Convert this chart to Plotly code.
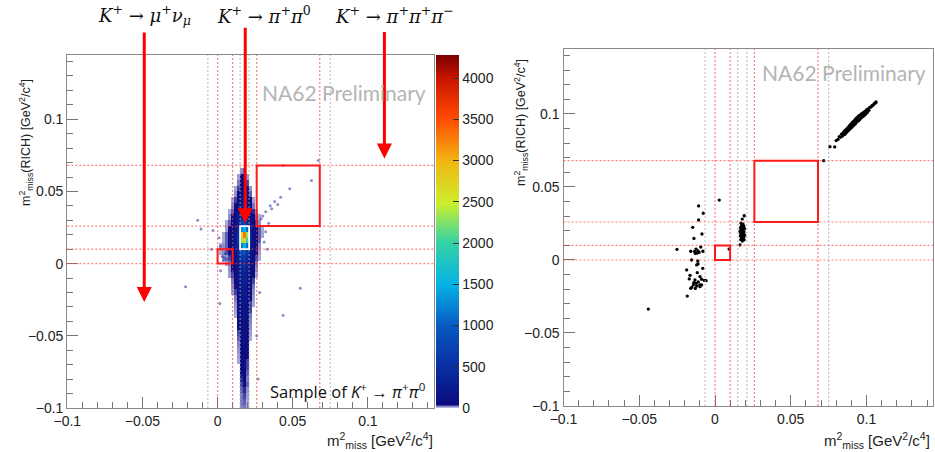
import plotly.graph_objects as go

W, H = 935, 452

# ---------------- data: left panel (2D histogram, K+ -> pi+ pi0 sample) -------------
hist_x = [0.000, 0.002, 0.004, 0.006, 0.008, 0.010, 0.012, 0.014, 0.016, 0.018,
          0.020, 0.022, 0.024, 0.026, 0.028, 0.030, 0.032, 0.034]
hist_y = [0.068, 0.064, 0.060, 0.056, 0.052, 0.048, 0.044, 0.040, 0.036, 0.032, 0.028,
          0.024, 0.020, 0.016, 0.012, 0.008, 0.004, 0.000, -0.004, -0.008, -0.012,
          -0.016, -0.020, -0.024, -0.028, -0.032, -0.036, -0.040, -0.044, -0.048, -0.052,
          -0.056, -0.060, -0.064, -0.068, -0.072, -0.076, -0.080, -0.084, -0.088, -0.092,
          -0.096, -0.100]
hist_counts = [
    [0, 0, 0, 0, 0, 0, 0, 0, 0, 0, 0, 0, 0, 0, 0, 0, 0, 0],
    [0, 0, 0, 0, 0, 0, 0, 0, 15, 25, 0, 0, 0, 0, 0, 0, 0, 0],
    [0, 0, 0, 0, 0, 0, 0, 12, 40, 50, 12, 0, 0, 0, 0, 0, 0, 0],
    [0, 0, 0, 0, 0, 0, 0, 20, 60, 80, 30, 0, 0, 0, 0, 0, 0, 0],
    [0, 0, 0, 0, 0, 0, 10, 30, 90, 110, 50, 15, 0, 0, 0, 0, 0, 0],
    [0, 0, 0, 0, 0, 0, 15, 50, 130, 160, 80, 25, 0, 0, 0, 0, 0, 0],
    [0, 0, 0, 0, 0, 10, 30, 80, 180, 220, 120, 40, 12, 0, 0, 0, 0, 0],
    [0, 0, 0, 0, 0, 15, 40, 110, 240, 290, 160, 60, 20, 0, 0, 0, 0, 0],
    [0, 0, 0, 0, 10, 25, 60, 150, 320, 380, 220, 90, 35, 12, 0, 0, 0, 0],
    [0, 0, 0, 0, 15, 40, 90, 210, 440, 520, 300, 130, 50, 20, 10, 0, 0, 0],
    [0, 0, 0, 10, 25, 60, 130, 300, 650, 760, 430, 190, 80, 35, 15, 0, 0, 0],
    [0, 0, 0, 12, 40, 80, 180, 420, 1300, 1500, 1100, 260, 110, 50, 25, 10, 0, 0],
    [0, 0, 10, 25, 50, 100, 220, 520, 2700, 3300, 2300, 320, 130, 60, 25, 10, 0, 0],
    [0, 0, 10, 25, 60, 110, 240, 560, 2300, 2800, 2000, 330, 140, 60, 25, 0, 0, 0],
    [0, 10, 15, 25, 50, 100, 220, 480, 1200, 1500, 1100, 280, 120, 50, 15, 0, 0, 0],
    [0, 10, 15, 25, 40, 90, 190, 400, 800, 900, 600, 230, 100, 40, 12, 0, 0, 0],
    [0, 0, 12, 15, 30, 70, 150, 320, 600, 650, 450, 180, 80, 30, 10, 0, 0, 0],
    [0, 0, 0, 12, 20, 50, 110, 250, 480, 520, 360, 140, 60, 20, 0, 0, 0, 0],
    [0, 0, 0, 0, 15, 40, 90, 200, 400, 430, 290, 110, 50, 15, 0, 0, 0, 0],
    [0, 0, 0, 0, 12, 30, 70, 170, 340, 360, 240, 90, 40, 10, 0, 0, 0, 0],
    [0, 0, 0, 0, 0, 20, 50, 140, 290, 310, 200, 70, 30, 0, 0, 0, 0, 0],
    [0, 0, 0, 0, 0, 15, 40, 120, 250, 270, 170, 60, 20, 0, 0, 0, 0, 0],
    [0, 0, 0, 0, 0, 12, 30, 100, 220, 240, 150, 50, 15, 0, 0, 0, 0, 0],
    [0, 0, 0, 0, 0, 0, 20, 80, 190, 210, 130, 40, 12, 0, 0, 0, 0, 0],
    [0, 0, 0, 0, 0, 0, 15, 70, 170, 190, 110, 30, 10, 0, 0, 0, 0, 0],
    [0, 0, 0, 0, 0, 0, 12, 60, 150, 170, 100, 30, 0, 0, 0, 0, 0, 0],
    [0, 0, 0, 0, 0, 0, 10, 50, 130, 150, 90, 20, 0, 0, 0, 0, 0, 0],
    [0, 0, 0, 0, 0, 0, 0, 40, 120, 130, 80, 18, 0, 0, 0, 0, 0, 0],
    [0, 0, 0, 0, 0, 0, 0, 40, 110, 120, 70, 15, 0, 0, 0, 0, 0, 0],
    [0, 0, 0, 0, 0, 0, 0, 30, 100, 110, 60, 12, 0, 0, 0, 0, 0, 0],
    [0, 0, 0, 0, 0, 0, 0, 25, 90, 100, 50, 10, 0, 0, 0, 0, 0, 0],
    [0, 0, 0, 0, 0, 0, 0, 18, 80, 90, 50, 0, 0, 0, 0, 0, 0, 0],
    [0, 0, 0, 0, 0, 0, 0, 15, 70, 80, 40, 0, 0, 0, 0, 0, 0, 0],
    [0, 0, 0, 0, 0, 0, 0, 12, 60, 70, 40, 0, 0, 0, 0, 0, 0, 0],
    [0, 0, 0, 0, 0, 0, 0, 10, 60, 60, 30, 0, 0, 0, 0, 0, 0, 0],
    [0, 0, 0, 0, 0, 0, 0, 0, 50, 60, 30, 0, 0, 0, 0, 0, 0, 0],
    [0, 0, 0, 0, 0, 0, 0, 0, 40, 50, 25, 0, 0, 0, 0, 0, 0, 0],
    [0, 0, 0, 0, 0, 0, 0, 0, 35, 45, 20, 0, 0, 0, 0, 0, 0, 0],
    [0, 0, 0, 0, 0, 0, 0, 0, 30, 40, 25, 0, 0, 0, 0, 0, 0, 0],
    [0, 0, 0, 0, 0, 0, 0, 0, 25, 35, 15, 0, 0, 0, 0, 0, 0, 0],
    [0, 0, 0, 0, 0, 0, 0, 0, 20, 30, 12, 0, 0, 0, 0, 0, 0, 0],
    [0, 0, 0, 0, 0, 0, 0, 0, 20, 25, 10, 0, 0, 0, 0, 0, 0, 0],
    [0, 0, 0, 0, 0, 0, 0, 0, 18, 20, 10, 0, 0, 0, 0, 0, 0, 0],
]
# sparse single entries around the core
sparse_x = [-0.0133, -0.0213, 0.0436, 0.0670, 0.0625, 0.0480, 0.0420, 0.0380, 0.0350, 0.0320,
            0.0300, 0.0360, 0.0400, 0.0290, 0.0436, 0.0015, -0.0030, -0.0110, 0.0030, 0.0060,
            0.0050, 0.0080, 0.0040, 0.0070, 0.0020, 0.0550, 0.0280, 0.0310, 0.0330, 0.0320,
            0.0340, 0.0020, -0.0040, 0.0260, 0.0270, 0.0045, 0.0010]
sparse_y = [0.0300, -0.0160, 0.0680, 0.0714, 0.0576, 0.0519, 0.0460, 0.0430, 0.0400, 0.0360,
            0.0330, 0.0380, 0.0410, 0.0310, -0.0357, -0.0277, 0.0230, 0.0240, 0.0050, 0.0030,
            0.0070, 0.0060, 0.0020, 0.0090, 0.0120, -0.0170, -0.0200, 0.0150, 0.0100, 0.0220,
            0.0280, -0.0050, 0.0100, -0.0500, -0.0800, 0.0040, 0.0180]

# ---------------- data: right panel (selected events) ---------------------------------
ev_x = [-0.0108, -0.0077, -0.0108, -0.0147, -0.0139, -0.0086, 0.0028, -0.0251, -0.0125, -0.0112,
        -0.0135, -0.0105, -0.0118, -0.0094, -0.0130, -0.0154, -0.0114, -0.0112, -0.0121, -0.0187,
        -0.0081, -0.0117, -0.0165, -0.0099, -0.0088, -0.0132, -0.0125, -0.0143, -0.0154, -0.0160,
        -0.0121, -0.0099, -0.0088, -0.0059, -0.0110, -0.0140, -0.0183, -0.0440, 0.0093, -0.0070,
        -0.0130, -0.0100, -0.0170, -0.0080, -0.0160,
        0.0193, 0.0180, 0.0172, 0.0185, 0.0175, 0.0190, 0.0168, 0.0182, 0.0195, 0.0172,
        0.0187, 0.0178, 0.0165, 0.0192, 0.0183, 0.0170, 0.0188, 0.0175, 0.0195, 0.0168,
        0.0182, 0.0190, 0.0175, 0.0185, 0.0170, 0.0192, 0.0180, 0.0165,
        0.0718, 0.0759, 0.0790, 0.0800, 0.0812, 0.0820, 0.0828, 0.0835, 0.0840, 0.0846,
        0.0850, 0.0855, 0.0858, 0.0862, 0.0866, 0.0870, 0.0873, 0.0877, 0.0880, 0.0884,
        0.0887, 0.0890, 0.0893, 0.0896, 0.0899, 0.0902, 0.0905, 0.0908, 0.0911, 0.0914,
        0.0917, 0.0920, 0.0923, 0.0926, 0.0929, 0.0932, 0.0935, 0.0938, 0.0941, 0.0944,
        0.0948, 0.0951, 0.0955, 0.0958, 0.0962, 0.0966, 0.0970, 0.0974, 0.0978, 0.0982,
        0.0986, 0.0990, 0.0995, 0.1000, 0.1005, 0.1010, 0.1016, 0.1022, 0.1030, 0.1038,
        0.1045, 0.1052, 0.1060, 0.1063]
ev_y = [0.0370, 0.0320, 0.0274, 0.0224, 0.0148, 0.0178, 0.0410, 0.0073, 0.0075, 0.0062,
        0.0058, 0.0052, 0.0048, 0.0089, 0.0045, 0.0000, -0.0007, -0.0027, -0.0034, -0.0068,
        -0.0057, -0.0087, -0.0105, -0.0114, -0.0132, -0.0137, -0.0160, -0.0171, -0.0187, -0.0194,
        -0.0178, -0.0183, -0.0171, -0.0142, -0.0150, -0.0155, -0.0247, -0.0336, 0.0075, -0.0140,
        -0.0195, -0.0170, -0.0130, 0.0060, 0.0060,
        0.0303, 0.0280, 0.0252, 0.0245, 0.0235, 0.0230, 0.0222, 0.0218, 0.0215, 0.0208,
        0.0205, 0.0198, 0.0195, 0.0192, 0.0188, 0.0182, 0.0178, 0.0172, 0.0170, 0.0165,
        0.0160, 0.0155, 0.0150, 0.0145, 0.0140, 0.0138, 0.0130, 0.0103,
        0.0680, 0.0776, 0.0774, 0.0818, 0.0826, 0.0845, 0.0840, 0.0862, 0.0848, 0.0872,
        0.0858, 0.0884, 0.0862, 0.0890, 0.0872, 0.0898, 0.0880, 0.0905, 0.0887, 0.0915,
        0.0893, 0.0922, 0.0900, 0.0928, 0.0906, 0.0935, 0.0912, 0.0942, 0.0918, 0.0950,
        0.0925, 0.0955, 0.0930, 0.0962, 0.0937, 0.0970, 0.0962, 0.0975, 0.0950, 0.0980,
        0.0955, 0.0988, 0.0962, 0.0992, 0.0970, 0.1000, 0.0978, 0.1005, 0.0985, 0.1010,
        0.0992, 0.1018, 0.1000, 0.1028, 0.1010, 0.1035, 0.1025, 0.1045, 0.1048, 0.1058,
        0.1062, 0.1072, 0.1076, 0.1082]

# region boundaries
red_lines = [0.0, 0.010, 0.026, 0.068]
gray_lines = [-0.0065, 0.015, 0.021, 0.075]
region1 = (0.0, 0.010)
region2 = (0.026, 0.068)
control_box = (0.015, 0.021, 0.010, 0.026)

# arrows (head position in data units, tail offset in pixels)
arrow_x = [-0.0488, 0.0184, 0.111]
arrow_head_y = [-0.0265, 0.0279, 0.0728]
arrow_tail_offset = [-271, -197, -128]
decay_labels = ["<i>K</i><sup>+</sup> → <i>μ</i><sup>+</sup><i>ν</i><sub><i>μ</i></sub>",
                "<i>K</i><sup>+</sup> → <i>π</i><sup>+</sup><i>π</i><sup>0</sup>",
                "<i>K</i><sup>+</sup> → <i>π</i><sup>+</sup><i>π</i><sup>+</sup><i>π</i><sup>−</sup>"]
decay_label_px = [144, 264, 394]

z = [[(v if v > 0 else None) for v in row] for row in hist_counts]

palette = [[0.0, "rgba(40,40,170,0.25)"], [0.0025, "rgba(30,30,160,0.40)"],
           [0.0095, "rgba(11,11,126,1)"], [0.06, "#0a1c8f"], [0.12, "#0a2fa3"],
           [0.23, "#0858c2"], [0.35, "#05b2e6"], [0.47, "#35d3a3"], [0.58, "#cdee2c"],
           [0.70, "#f2b512"], [0.82, "#ff4a00"], [0.93, "#cc1600"], [1.0, "#7a0000"]]


def px2fx(p):
    return p / W


def px2fy(p):
    return 1 - p / H


fig = go.Figure()

fig.add_trace(go.Scatter(x=sparse_x, y=sparse_y, mode="markers", xaxis="x", yaxis="y",
                         marker=dict(size=3, color="rgba(30,30,150,0.5)"), hoverinfo="skip",
                         showlegend=False))
fig.add_trace(go.Heatmap(x=hist_x, y=hist_y, z=z, zmin=0, zmax=4280, colorscale=palette,
                         xaxis="x", yaxis="y", hoverinfo="skip",
                         colorbar=dict(x=px2fx(436), xanchor="left", y=px2fy(408), yanchor="bottom",
                                       len=353 / H, lenmode="fraction", thickness=23,
                                       thicknessmode="pixels", xpad=0, ypad=0, outlinewidth=0,
                                       ticks="inside", ticklen=6, tickcolor="#333", dtick=500,
                                       tick0=0, tickfont=dict(size=14, family="Liberation Sans",
                                                              color="#222"))))
fig.add_trace(go.Scatter(x=ev_x, y=ev_y, mode="markers", xaxis="x2", yaxis="y2",
                         marker=dict(size=3.3, color="black"), hoverinfo="skip", showlegend=False))

axis_common = dict(showline=True, mirror=True, linecolor="#8a8a8a", linewidth=1.3,
                   ticks="inside", ticklen=11, tickcolor="#777", tickwidth=1,
                   dtick=0.05, tick0=0, showgrid=False, zeroline=False, automargin=False,
                   tickfont=dict(size=14, family="Liberation Sans", color="#222"),
                   minor=dict(ticks="inside", ticklen=6, dtick=0.01, tickcolor="#777", showgrid=False))

fig.update_layout(
    template="none",
    width=W, height=H, margin=dict(l=0, r=0, t=0, b=0, pad=0), autosize=False,
    paper_bgcolor="white", plot_bgcolor="white", showlegend=False,
    xaxis=dict(domain=[px2fx(67.3), px2fx(434)], range=[-0.1, 0.1440], anchor="y", **axis_common),
    yaxis=dict(domain=[px2fy(408), px2fy(55)], range=[-0.1, 0.1445], anchor="x", **axis_common),
    xaxis2=dict(domain=[px2fx(563.5), px2fx(933)], range=[-0.1, 0.1439], anchor="y2", **axis_common),
    yaxis2=dict(domain=[px2fy(406), px2fy(49)], range=[-0.1, 0.1445], anchor="x2", **axis_common),
)

red_line = dict(color="rgba(255,60,60,0.65)", width=1.2, dash="2px,2px")
gray_line = dict(color="rgba(170,170,170,0.7)", width=1.2, dash="2px,2px")
shapes = []
for xr, yr in (("x", "y"), ("x2", "y2")):
    for v in gray_lines:
        shapes.append(dict(type="line", xref=xr, yref=yr + " domain", x0=v, x1=v, y0=0, y1=1,
                           line=gray_line))
    for v in red_lines:
        shapes.append(dict(type="line", xref=xr, yref=yr + " domain", x0=v, x1=v, y0=0, y1=1,
                           line=red_line))
        shapes.append(dict(type="line", xref=xr + " domain", yref=yr, x0=0, x1=1, y0=v, y1=v,
                           line=red_line))
    for lo, hi in (region1, region2):
        shapes.append(dict(type="rect", xref=xr, yref=yr, x0=lo, x1=hi, y0=lo, y1=hi,
                           line=dict(color="#ff1a1a", width=2)))
shapes.append(dict(type="rect", xref="x", yref="y", x0=control_box[0], x1=control_box[1],
                   y0=control_box[2], y1=control_box[3], line=dict(color="white", width=1.8)))

ann = []
for xa, ya, off in zip(arrow_x, arrow_head_y, arrow_tail_offset):
    ann.append(dict(x=xa, y=ya, xref="x", yref="y", text="", showarrow=True, ax=0, ay=off,
                    arrowcolor="#ff0000", arrowwidth=3, arrowhead=2, arrowsize=1, standoff=0))
for lab, px in zip(decay_labels, decay_label_px):
    ann.append(dict(x=px2fx(px), y=px2fy(15), xref="paper", yref="paper", text=lab,
                    showarrow=False, xanchor="center", yanchor="middle",
                    font=dict(size=18, family="DejaVu Serif", color="#111")))

na62 = dict(size=21, family="Lato", color="#b4b4b4")
ann.append(dict(x=px2fx(428), y=px2fy(93), xref="paper", yref="paper", text="NA62 Preliminary",
                showarrow=False, xanchor="right", yanchor="middle", font=na62))
ann.append(dict(x=px2fx(928), y=px2fy(73), xref="paper", yref="paper", text="NA62 Preliminary",
                showarrow=False, xanchor="right", yanchor="middle", font=na62))
ann.append(dict(x=px2fx(428), y=px2fy(391), xref="paper", yref="paper",
                text="Sample of <i>K</i><sup>+</sup> → <i>π</i><sup>+</sup><i>π</i><sup>0</sup>",
                showarrow=False, xanchor="right", yanchor="middle",
                font=dict(size=16.5, family="Open Sans", color="#111")))

xt = "m<sup>2</sup><sub>miss</sub> [GeV<sup>2</sup>/c<sup>4</sup>]"
yt = "m<sup>2</sup><sub>miss</sub>(RICH) [GeV<sup>2</sup>/c<sup>4</sup>]"
tfont = dict(size=15, family="Liberation Sans", color="#222")
yfont = dict(size=12.5, family="Liberation Sans", color="#222")
ann.append(dict(x=px2fx(435), y=px2fy(440), xref="paper", yref="paper", text=xt, showarrow=False,
                xanchor="right", yanchor="middle", font=tfont))
ann.append(dict(x=px2fx(932), y=px2fy(440), xref="paper", yref="paper", text=xt, showarrow=False,
                xanchor="right", yanchor="middle", font=tfont))
ann.append(dict(x=px2fx(26), y=px2fy(143), xref="paper", yref="paper", text=yt, showarrow=False,
                textangle=-90, xanchor="center", yanchor="middle", font=yfont))
ann.append(dict(x=px2fx(521), y=px2fy(123), xref="paper", yref="paper", text=yt, showarrow=False,
                textangle=-90, xanchor="center", yanchor="middle", font=yfont))

fig.update_layout(shapes=shapes, annotations=ann)
fig.write_html("out.html", config={"displayModeBar": False},
               post_script="document.body.style.margin='0';document.body.style.padding='0';")
